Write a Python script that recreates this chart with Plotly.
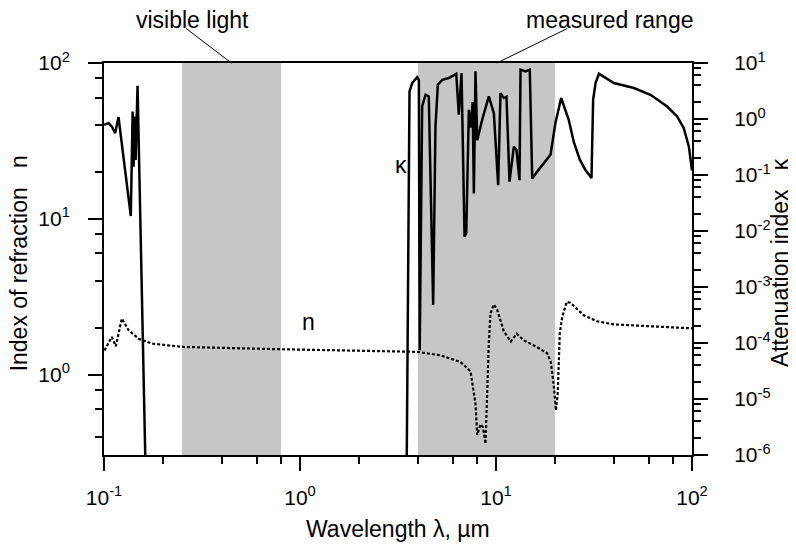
import plotly.graph_objects as go

# ---- data ----
kappa_uv_wl = [0.100, 0.1054, 0.1096, 0.114, 0.1186, 0.137, 0.140, 0.1415, 0.1432, 0.145, 0.1483, 0.163]
kappa_uv = [0.787, 0.845, 0.734, 0.56, 1.08, 0.0185, 1.36, 0.141, 1.11, 0.186, 3.93, 5e-7]

kappa_ir_wl = [3.50, 3.62, 3.74, 3.96, 4.04, 4.08, 4.20, 4.37, 4.54, 4.78, 4.91, 5.05, 5.32, 5.74,
               6.27, 6.46, 6.67, 6.91, 7.05, 7.27, 7.45, 7.60, 7.71, 7.86, 8.02, 8.50, 9.19, 9.75,
               10.26, 10.54, 10.96, 11.31, 11.72, 12.1, 12.33, 12.72, 13.18, 13.34, 14.15, 14.87,
               15.30, 16.22, 17.54, 18.97, 20.1, 21.5, 23.5, 24.9, 26.8, 28.6, 30.7, 31.3, 32.2,
               33.5, 39.9, 50.5, 61.4, 74.7, 84.0, 90.8, 96.4, 100.0]
kappa_ir = [5e-7, 3.1, 4.4, 5.6, 5.0, 7.4e-5, 1.67, 2.71, 2.53, 4.8e-4, 0.73, 4.1, 5.0, 5.4,
            6.4, 1.19, 6.6, 0.0079, 0.0091, 1.46, 0.7, 2.0, 0.047, 7.1, 0.42, 0.97, 2.53, 1.27,
            0.066, 2.9, 2.37, 2.5, 0.076, 0.214, 0.32, 0.28, 0.081, 7.6, 7.1, 7.6,
            0.087, 0.115, 0.16, 0.229, 0.85, 2.37, 0.97, 0.396, 0.186, 0.123, 0.088, 2.2, 4.39,
            6.44, 4.39, 3.57, 2.71, 1.67, 1.11, 0.687, 0.32, 0.12]

n_wl = [0.1006, 0.1096, 0.1149, 0.1233, 0.1334, 0.150, 0.1754, 0.2307, 0.2554, 0.795, 3.26,
        3.96, 5.21, 6.59, 7.41, 7.71, 7.86, 8.02, 8.34, 8.57, 8.84, 9.19, 9.37, 9.75, 10.15,
        10.96, 11.9, 12.77, 13.86, 16.22, 18.24, 19.05, 19.72, 20.23, 20.65, 21.16, 21.77,
        22.96, 23.99, 28.05, 32.8, 39.9, 61.4, 98.2, 100.0]
n_vals = [1.43, 1.745, 1.52, 2.29, 1.93, 1.70, 1.58, 1.52, 1.505, 1.455, 1.42,
          1.40, 1.33, 1.205, 1.05, 0.79, 0.65, 0.41, 0.48, 0.46, 0.36, 1.58, 2.47, 2.82, 2.6,
          1.9, 1.63, 1.83, 1.66, 1.5, 1.37, 1.2, 0.85, 0.59, 0.76, 1.84, 2.35,
          2.93, 2.89, 2.4, 2.2, 2.1, 2.05, 1.98, 1.98]

visible_band = [0.25, 0.8]
measured_band = [4.0, 20.0]

x_tickvals = [0.1, 1, 10, 100]
x_ticktext = ["10<sup>-1</sup>", "10<sup>0</sup>", "10<sup>1</sup>", "10<sup>2</sup>"]
yl_tickvals = [1, 10, 100]
yl_ticktext = ["10<sup>0</sup>", "10<sup>1</sup>", "10<sup>2</sup>"]
yr_tickvals = [1e-6, 1e-5, 1e-4, 1e-3, 1e-2, 1e-1, 1, 10]
yr_ticktext = ["10<sup>-6</sup>", "10<sup>-5</sup>", "10<sup>-4</sup>", "10<sup>-3</sup>",
               "10<sup>-2</sup>", "10<sup>-1</sup>", "10<sup>0</sup>", "10<sup>1</sup>"]
minor_mults = [2, 4, 6, 8]

def minors(decades):
    return [m * d for d in decades for m in minor_mults]

FONT = "Liberation Sans, Arial, Helvetica, sans-serif"
fig = go.Figure()

fig.add_trace(go.Scatter(x=n_wl, y=n_vals, mode="lines", yaxis="y",
                         line=dict(color="black", width=2.2, dash="3px,2px"), showlegend=False))
fig.add_trace(go.Scatter(x=kappa_uv_wl, y=kappa_uv, mode="lines", yaxis="y2",
                         line=dict(color="black", width=2.5), showlegend=False))
fig.add_trace(go.Scatter(x=kappa_ir_wl, y=kappa_ir, mode="lines", yaxis="y2",
                         line=dict(color="black", width=2.5), showlegend=False))

shade = "rgb(198,198,198)"
for band in (visible_band, measured_band):
    fig.add_shape(type="rect", xref="x", yref="paper", x0=band[0], x1=band[1], y0=0, y1=1,
                  fillcolor=shade, line=dict(width=0), layer="below")

# leader lines for the band labels
fig.add_shape(type="line", xref="x", yref="paper", x0=0.261, y0=1.089, x1=0.447, y1=1.0,
              line=dict(color="black", width=1))
fig.add_shape(type="line", xref="x", yref="paper", x0=23.1, y0=1.088, x1=10.1, y1=1.0,
              line=dict(color="black", width=1))

ann_font = dict(family=FONT, size=23, color="black")
fig.add_annotation(text="visible light", xref="paper", yref="paper", x=0.1505, y=1.11,
                   showarrow=False, font=ann_font, xanchor="center", yanchor="middle")
fig.add_annotation(text="measured range", xref="paper", yref="paper", x=0.8597, y=1.11,
                   showarrow=False, font=ann_font, xanchor="center", yanchor="middle")
fig.add_annotation(text="n", xref="paper", yref="paper", x=0.3486, y=0.30,
                   showarrow=False, font=ann_font)
fig.add_annotation(text="κ", xref="paper", yref="paper", x=0.505, y=0.778,
                   showarrow=False, font=ann_font)
# axis titles
fig.add_annotation(text="Wavelength λ, µm", xref="paper", yref="paper", x=0.5, y=-0.19,
                   showarrow=False, font=ann_font, xanchor="center", yanchor="middle")
fig.add_annotation(text="Index of refraction   n", xref="paper", yref="paper", x=-0.1455, y=0.49,
                   showarrow=False, font=ann_font, textangle=-90, xanchor="center", yanchor="middle")
fig.add_annotation(text="Attenuation index   κ", xref="paper", yref="paper", x=1.15, y=0.49,
                   showarrow=False, font=ann_font, textangle=-90, xanchor="center", yanchor="middle")

tick_font = dict(family=FONT, size=21, color="black")
common = dict(showgrid=False, zeroline=False, showline=True, linecolor="black", linewidth=2,
              ticks="outside", ticklen=14, tickwidth=2, tickcolor="black", tickfont=tick_font,
              tickmode="array", automargin=False)

# the page adds an 8px body margin; margins are offset so the plot area lands where the reference has it
fig.update_layout(
    width=796, height=547,
    margin=dict(l=96, r=112, t=55, b=100),
    paper_bgcolor="white", plot_bgcolor="white",
    xaxis=dict(type="log", range=[-1, 2], tickvals=x_tickvals, ticktext=x_ticktext, mirror=True,
               minor=dict(tickmode="array", tickvals=minors([0.1, 1, 10]), ticks="outside",
                          ticklen=7, tickwidth=2, tickcolor="black"),
               ticklabelstandoff=9, **common),
    yaxis=dict(type="log", range=[-0.516, 2], tickvals=yl_tickvals, ticktext=yl_ticktext,
               minor=dict(tickmode="array", tickvals=minors([0.1, 1, 10]), ticks="outside",
                          ticklen=7, tickwidth=2, tickcolor="black"),
               ticklabelstandoff=14, **common),
    yaxis2=dict(type="log", range=[-6, 1], overlaying="y", side="right",
                tickvals=yr_tickvals, ticktext=yr_ticktext,
                minor=dict(tickmode="array", tickvals=minors([1e-6, 1e-5, 1e-4, 1e-3, 1e-2, 1e-1, 1]),
                           ticks="outside", ticklen=7, tickwidth=2, tickcolor="black"),
                ticklabelstandoff=22, **common),
    font=dict(family=FONT, color="black"),
)

fig.write_html("out.html")
